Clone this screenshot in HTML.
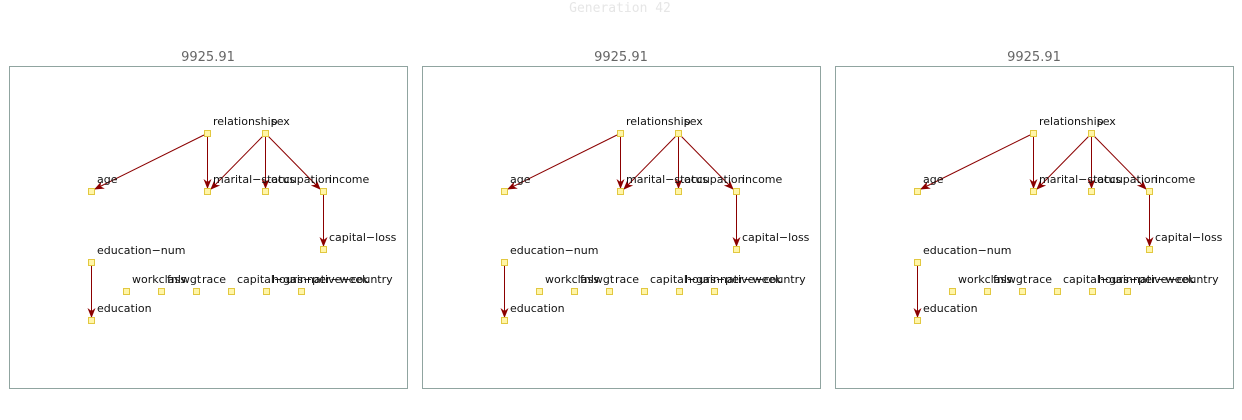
<!DOCTYPE html>
<html><head><meta charset="utf-8"><style>
html,body{margin:0;padding:0;background:#fff;width:1242px;height:420px;overflow:hidden}
svg text{font-family:"DejaVu Sans","Liberation Sans",sans-serif}
</style></head><body>
<svg id="s" width="1242" height="420" viewBox="0 0 1242 420" xmlns="http://www.w3.org/2000/svg">
<defs>
<marker id="a" markerWidth="10" markerHeight="8" refX="9" refY="4" orient="auto" markerUnits="userSpaceOnUse">
<path d="M0,0 L10,4 L0,8 L3,4 z" fill="#8b0000"/>
</marker>
</defs>
<text x="620" y="12" text-anchor="middle" font-size="13" fill="#e6e6e6" style="font-family:'DejaVu Sans Mono','Liberation Mono',monospace">Generation 42</text>
<g id="p0">
<rect x="9.5" y="66.5" width="398" height="322" fill="none" stroke="#90a4a0" stroke-width="1"/>
<text x="208" y="61" text-anchor="middle" font-size="13" fill="#666">9925.91</text>
<g stroke="#8b0000" stroke-width="1" fill="none" marker-end="url(#a)">
<line x1="204" y1="135" x2="95" y2="189"/>
<line x1="207.5" y1="136" x2="207.5" y2="188"/>
<line x1="263" y1="136" x2="211" y2="189"/>
<line x1="265.5" y1="136" x2="265.5" y2="188"/>
<line x1="268" y1="136" x2="320" y2="189"/>
<line x1="323.5" y1="194" x2="323.5" y2="246"/>
<line x1="91.5" y1="265" x2="91.5" y2="317"/>
</g>
<g fill="#fff5a8" stroke="#e2c840" stroke-width="1">
<rect x="204.5" y="130.5" width="6" height="6"/><rect x="262.5" y="130.5" width="6" height="6"/>
<rect x="88.5" y="188.5" width="6" height="6"/><rect x="204.5" y="188.5" width="6" height="6"/>
<rect x="262.5" y="188.5" width="6" height="6"/><rect x="320.5" y="188.5" width="6" height="6"/>
<rect x="320.5" y="246.5" width="6" height="6"/><rect x="88.5" y="259.5" width="6" height="6"/>
<rect x="88.5" y="317.5" width="6" height="6"/>
<rect x="123.5" y="288.5" width="6" height="6"/><rect x="158.5" y="288.5" width="6" height="6"/>
<rect x="193.5" y="288.5" width="6" height="6"/><rect x="228.5" y="288.5" width="6" height="6"/>
<rect x="263.5" y="288.5" width="6" height="6"/><rect x="298.5" y="288.5" width="6" height="6"/>
</g>
<g font-size="11" fill="#111">
<text x="213" y="125">relationship</text><text x="271" y="125">sex</text>
<text x="97" y="183">age</text><text x="213" y="183">marital−status</text>
<text x="271" y="183">occupation</text><text x="329" y="183">income</text>
<text x="329" y="241">capital−loss</text><text x="97" y="254">education−num</text>
<text x="97" y="312">education</text>
<text x="132" y="283">workclass</text><text x="167" y="283">fnlwgt</text>
<text x="202" y="283">race</text><text x="237" y="283">capital−gain</text>
<text x="272" y="283">hours−per−week</text><text x="307" y="283">native−country</text>
</g>
</g>
</svg>
<script>
var p=document.getElementById('p0'),s=document.getElementById('s');
[413,826].forEach(function(o){var c=p.cloneNode(true);c.removeAttribute('id');c.setAttribute('transform','translate('+o+',0)');s.appendChild(c);});
</script>
</body></html>
